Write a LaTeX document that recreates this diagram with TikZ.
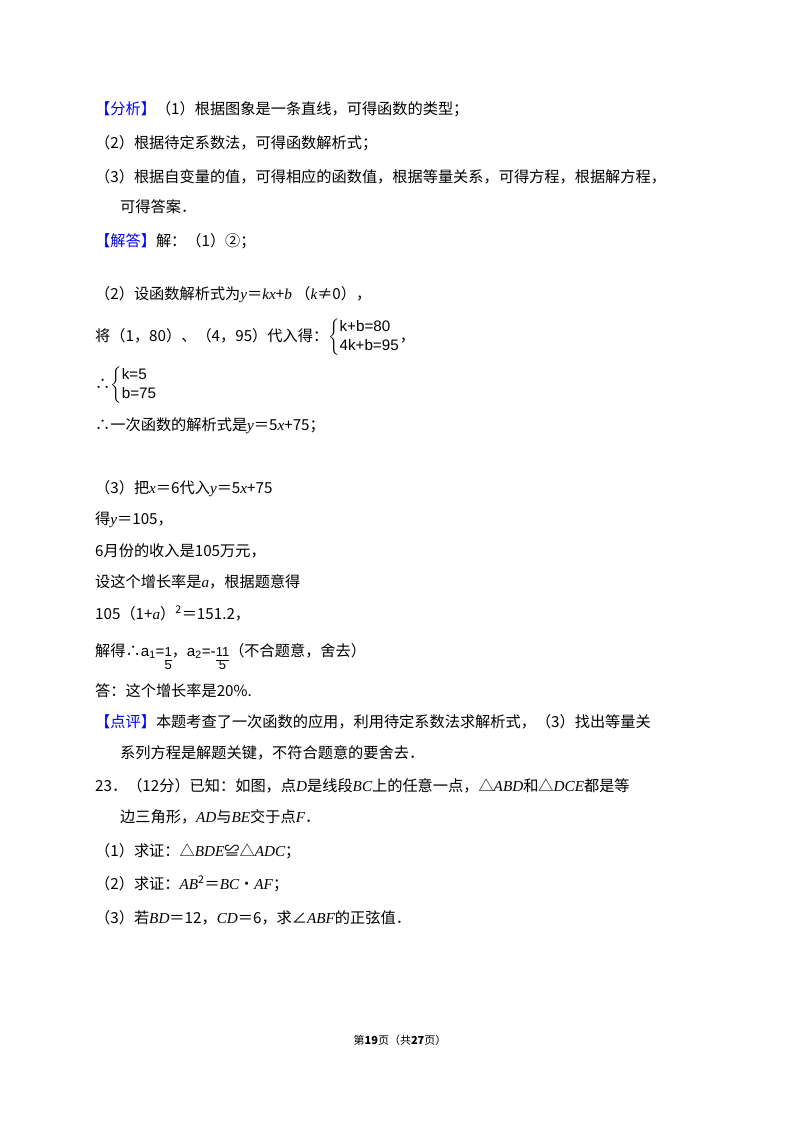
\documentclass[tikz,border=0pt]{standalone}
\usepackage{amsmath,amssymb}
\usepackage{fontspec}
\setmainfont{Noto Sans CJK SC}
\newfontfamily\eqfont{Liberation Sans}
\newfontfamily\latinfont{Liberation Serif}
\newcommand{\mi}[1]{{\latinfont\itshape #1}}
\newcommand{\fracbox}[2]{\raisebox{-0.45\height}{{\eqfont\fontsize{13}{14}\selectfont\renewcommand{\arraystretch}{0.85}\begin{tabular}{@{}c@{}}#1\\\hline #2\end{tabular}}}}
\definecolor{tagblue}{RGB}{0,0,255}
\tikzset{
  line/.style={anchor=base west, inner sep=0pt, font=\fontsize{15.2}{19}\selectfont},
  foot/.style={anchor=base, inner sep=0pt, font=\fontsize{11}{13}\selectfont}
}
\newcommand{\tagb}[1]{\textcolor{tagblue}{【#1】}}
\begin{document}
\begin{tikzpicture}[x=1pt,y=-1pt]
\useasboundingbox[fill=white] (0,0) rectangle (800,1132);

% analysis
\node[line] (l1) at (95,114) {\tagb{分析}（1）根据图象是一条直线，可得函数的类型；};
\node[line] (l2) at (95,148) {（2）根据待定系数法，可得函数解析式；};
\node[line] (l3) at (95,182) {（3）根据自变量的值，可得相应的函数值，根据等量关系，可得方程，根据解方程，};
\node[line] (l4) at (120,212) {可得答案．};

% answer
\node[line] (l5) at (95,246) {\tagb{解答}解：（1）②；};
\node[line] (l6) at (95,299) {（2）设函数解析式为\mi{y}＝\mi{kx}+\mi{b} （\mi{k}≠0），};
\node[line] (l7) at (95,341) {将（1，80）、（4，95）代入得：$\left\{\begin{array}{@{}l@{}}\text{\eqfont k+b=80}\\ \text{\eqfont 4k+b=95}\end{array}\right.$，};
\node[line] (l8) at (95,389) {∴$\left\{\begin{array}{@{}l@{}}\text{\eqfont k=5}\\ \text{\eqfont b=75}\end{array}\right.$};
\node[line] (l9) at (95,430) {∴一次函数的解析式是\mi{y}＝5\mi{x}+75；};
\node[line] (l10) at (95,493) {（3）把\mi{x}＝6代入\mi{y}＝5\mi{x}+75};
\node[line] (l11) at (95,524) {得\mi{y}＝105，};
\node[line] (l12) at (95,556) {6月份的收入是105万元，};
\node[line] (l13) at (95,587) {设这个增长率是\mi{a}，根据题意得};
\node[line] (l14) at (95,619) {105（1+\mi{a}）\textsuperscript{2}＝151.2，};
\node[line] (l15) at (95,656) {解得∴{\eqfont a\textsubscript{1}=}\fracbox{1}{5}，{\eqfont a\textsubscript{2}=-}\fracbox{11}{5}（不合题意，舍去）};
\node[line] (l16) at (95,696) {答：这个增长率是20\%.};

% comment
\node[line] (l17) at (95,727) {\tagb{点评}本题考查了一次函数的应用，利用待定系数法求解析式，（3）找出等量关};
\node[line] (l18) at (120,758) {系列方程是解题关键，不符合题意的要舍去．};

% problem 23
\node[line] (l19) at (95,791) {23．（12分）已知：如图，点\mi{D}是线段\mi{BC}上的任意一点，△\mi{ABD}和△\mi{DCE}都是等};
\node[line] (l20) at (120,822) {边三角形，\mi{AD}与\mi{BE}交于点\mi{F}．};
\node[line] (l21) at (95,856) {（1）求证：△\mi{BDE}≌△\mi{ADC}；};
\node[line] (l22) at (95,889) {（2）求证：\mi{AB}\textsuperscript{2}＝\mi{BC}•\mi{AF}；};
\node[line] (l23) at (95,923) {（3）若\mi{BD}＝12，\mi{CD}＝6，求∠\mi{ABF}的正弦值．};

% footer
\node[foot] (pg) at (400,1044) {第\textbf{19}页（共\textbf{27}页）};
\end{tikzpicture}
\end{document}
